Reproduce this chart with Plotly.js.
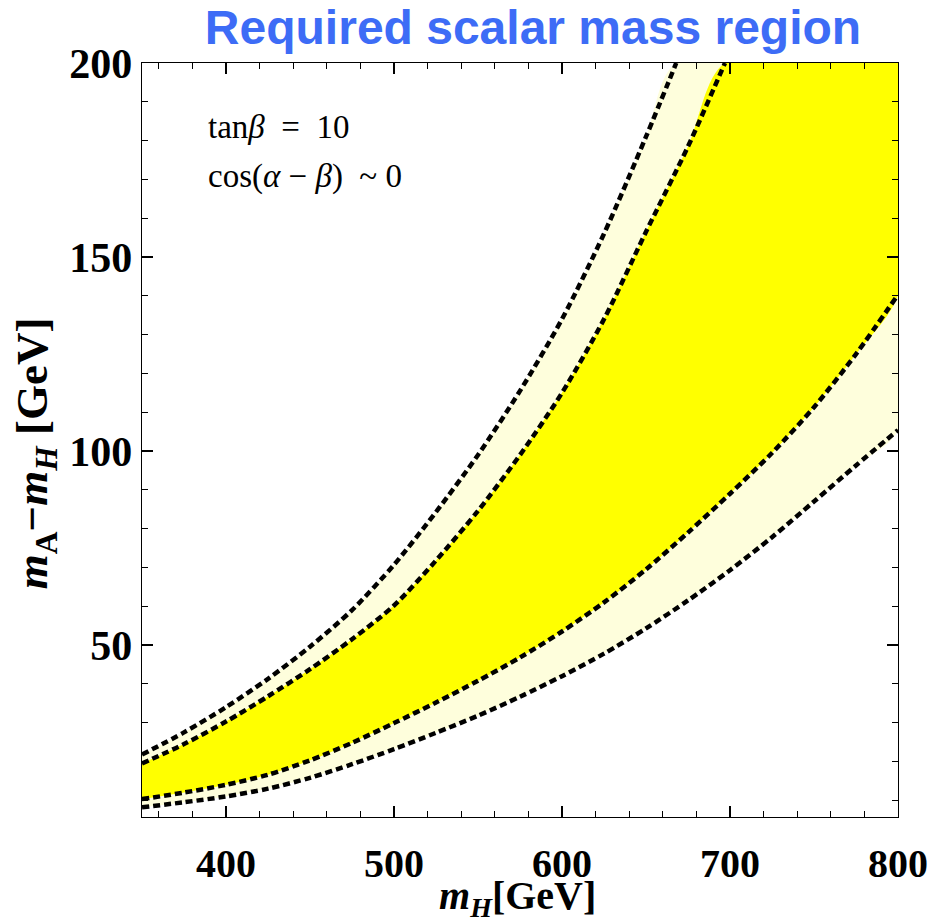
<!DOCTYPE html>
<html>
<head>
<meta charset="utf-8">
<script src="https://cdn.plot.ly/plotly-3.0.1.min.js"></script>
<style>html,body{margin:0;padding:0;background:#fff}</style>
</head>
<body>
<div id="chart" style="width:930px;height:921px"></div>
<script>
// m_H values (GeV) and m_A - m_H boundaries (GeV)
const outerUpperX = [350,375,400,425,450,475,500,525,550,575,600,625,650,668];
const outerUpperY = [21.8,27.5,34.0,41.3,49.6,59.0,70.7,84.3,99.0,115.5,134.0,156.0,181.0,200];
const innerUpperX = [350,375,400,425,450,475,500,525,550,575,600,625,650,675,697];
const innerUpperY = [19.5,24.5,30.3,36.8,43.8,51.5,60.2,71.8,84.6,99.0,115.0,134.0,156.5,178.5,200];
const lowerX      = [350,375,400,425,450,475,500,525,550,575,600,625,650,675,700,725,750,775,800];
const innerLowerY = [10.3,12.0,14.0,16.6,20.3,24.8,29.9,35.2,40.8,46.8,53.5,61.0,69.5,79.0,89.0,99.5,111.3,125.0,140.3];
const outerLowerY = [8.2,9.5,11.0,13.0,15.8,19.3,23.2,27.4,31.8,36.7,42.0,47.8,54.3,61.5,69.3,77.8,87.0,96.3,105.4];
const xRange = [350, 800];
const yRange = [5.7, 200];
const xTicks = [400,500,600,700,800];
const yTicks = [50,100,150,200];

const rev = a => a.slice().reverse();
const lightX = outerUpperX.concat([xRange[1]], rev(lowerX));
const lightY = outerUpperY.concat([yRange[1]], rev(outerLowerY));
const coreX  = innerUpperX.concat([xRange[1]], rev(lowerX));
const coreY  = innerUpperY.concat([yRange[1]], rev(innerLowerY));

const dashLine = {color:'#000', width:4.5, dash:'7px,4px', shape:'spline', smoothing:0.8};
const traces = [
  {x:lightX, y:lightY, type:'scatter', mode:'lines', fill:'toself', fillcolor:'#FEFEDC', line:{width:0, shape:'spline', smoothing:0.8}, hoverinfo:'skip', showlegend:false},
  {x:coreX, y:coreY, type:'scatter', mode:'lines', fill:'toself', fillcolor:'#FFFF00', line:{width:0, shape:'spline', smoothing:0.8}, hoverinfo:'skip', showlegend:false},
  {x:outerUpperX, y:outerUpperY, type:'scatter', mode:'lines', line:dashLine, showlegend:false},
  {x:innerUpperX, y:innerUpperY, type:'scatter', mode:'lines', line:dashLine, showlegend:false},
  {x:lowerX, y:innerLowerY, type:'scatter', mode:'lines', line:dashLine, showlegend:false},
  {x:lowerX, y:outerLowerY, type:'scatter', mode:'lines', line:dashLine, showlegend:false}
];

const serif = 'Liberation Serif, Times New Roman, serif';
const axisCommon = {
  showline:true, linecolor:'#000', linewidth:1.3, mirror:'ticks',
  ticks:'inside', ticklen:11, tickwidth:1.2, tickcolor:'#000',
  showgrid:false, zeroline:false, fixedrange:true
};

const layout = {
  width:930, height:921,
  margin:{l:142, r:32, t:63, b:104},
  paper_bgcolor:'#fff', plot_bgcolor:'#fff',
  title:{text:'Required scalar mass region', x:533/930, xref:'container', xanchor:'center',
         y:0.989, yref:'container', yanchor:'top',
         font:{family:'Liberation Sans, Arial, sans-serif', size:48, color:'#3D6CF6', weight:'bold'}},
  xaxis:Object.assign({}, axisCommon, {
    range:xRange, tickmode:'array', tickvals:xTicks, ticklabelstandoff:11,
    tickfont:{family:serif, size:40, color:'#000', weight:'bold'},
    minor:{tickmode:'linear', tick0:0, dtick:20, ticks:'inside', ticklen:6, tickwidth:1, tickcolor:'#000'}
  }),
  yaxis:Object.assign({}, axisCommon, {
    range:yRange, tickmode:'array', tickvals:yTicks, ticklabelstandoff:0,
    tickfont:{family:serif, size:42, color:'#000', weight:'bold'},
    minor:{tickmode:'linear', tick0:0, dtick:10, ticks:'inside', ticklen:6, tickwidth:1, tickcolor:'#000'}
  }),
  annotations:[
    {text:'<i>m</i><sub><i>H</i></sub>[GeV]', xref:'paper', yref:'paper', x:0.497, y:-0.108,
     xanchor:'center', yanchor:'middle', showarrow:false,
     font:{family:serif, size:40, color:'#000', weight:'bold'}},
    {text:'<i>m</i><sub>A</sub>−<i>m</i><sub><i>H</i></sub> [GeV]', xref:'paper', yref:'paper', x:-0.142, y:0.482,
     xanchor:'center', yanchor:'middle', textangle:-90, showarrow:false,
     font:{family:serif, size:45, color:'#000', weight:'bold'}},
    {text:'tan<i>β</i>&nbsp; =&nbsp; 10', xref:'paper', yref:'paper', x:0.085, y:0.915, xanchor:'left', yanchor:'middle',
     showarrow:false, font:{family:serif, size:33, color:'#000'}},
    {text:'cos(<i>α</i> − <i>β</i>)&nbsp; ~ 0', xref:'paper', yref:'paper', x:0.085, y:0.849, xanchor:'left', yanchor:'middle',
     showarrow:false, font:{family:serif, size:33, color:'#000'}}
  ]
};

Plotly.newPlot('chart', traces, layout, {displayModeBar:false, staticPlot:true});
</script>
</body>
</html>
